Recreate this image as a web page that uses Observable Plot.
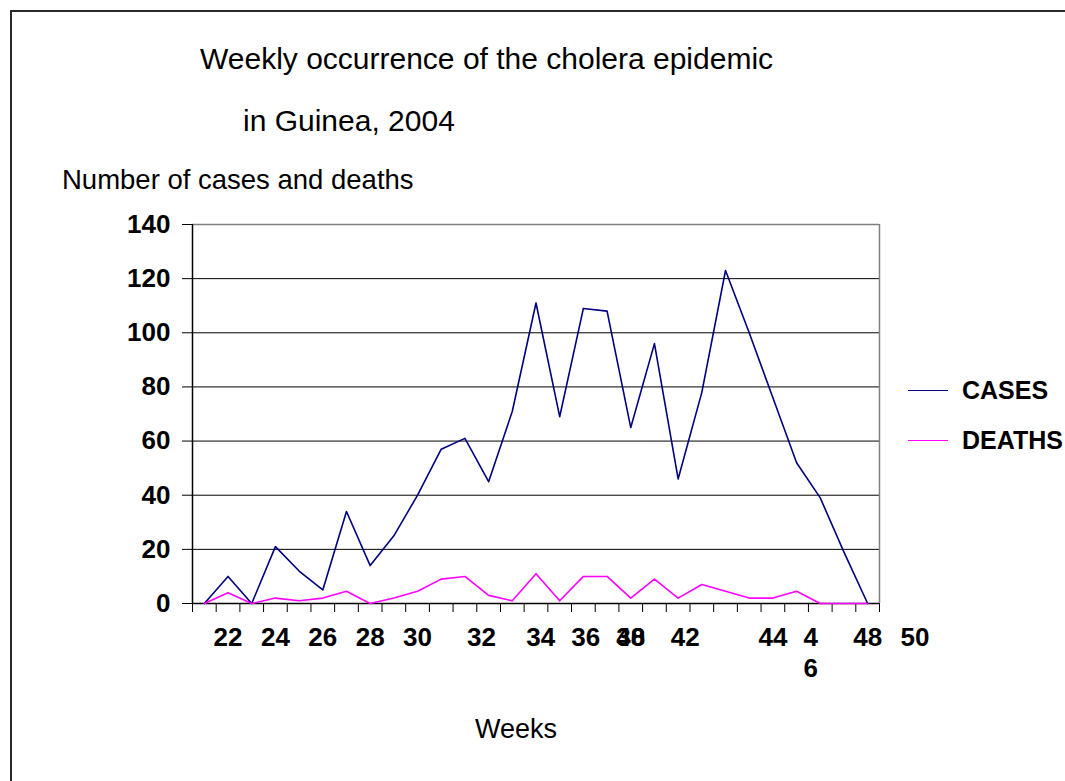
<!DOCTYPE html>
<html>
<head>
<meta charset="utf-8">
<script src="https://cdn.jsdelivr.net/npm/d3@7"></script>
<script src="https://cdn.jsdelivr.net/npm/@observablehq/plot@0.6"></script>
<style>
  html, body { margin: 0; padding: 0; background: #fff; overflow: hidden; }
  #page { position: relative; width: 1065px; height: 781px; overflow: hidden; font-family: "Liberation Sans", Arial, sans-serif; }
  #frame { position: absolute; left: 10px; top: 10px; width: 1100px; height: 820px; border: 2px solid #2a2a2a; box-sizing: border-box; }
  .t { position: absolute; white-space: nowrap; color: #000; line-height: 1; }
  #chart { position: absolute; left: 0; top: 0; }
  .leg { position: absolute; left: 908px; width: 40px; height: 0; border-top: 1.6px solid; }
  .legt { position: absolute; left: 962px; font-weight: bold; font-size: 25px; line-height: 1; white-space: nowrap; }
</style>
</head>
<body>
<div id="page">
  <div id="frame"></div>
  <div id="chart"></div>
  <div class="t" style="left:200px; top:44px; font-size:30px;">Weekly occurrence of the cholera epidemic</div>
  <div class="t" style="left:243px; top:106px; font-size:30px;">in Guinea, 2004</div>
  <div class="t" style="left:62px; top:166px; font-size:27.5px;">Number of cases and deaths</div>
  <div class="t" style="left:475px; top:716px; font-size:27px;">Weeks</div>
  <div class="leg" style="top:390px; border-color:#000080;"></div>
  <div class="legt" style="top:378px;">CASES</div>
  <div class="leg" style="top:440px; border-color:#ff00ff;"></div>
  <div class="legt" style="top:428px;">DEATHS</div>
</div>
<script>
// Category index of each weekly point (as plotted in the original)
const points = [1,2,3,4,5,6,7,8,9,10,11,12,13,14,15,16,17,18,19,20,21,22,23,24,25,26,27,28,29];
const cases  = [0,10,0,21,12,5,34,14,25,40,57,61,45,71,111,69,109,108,65,96,46,78,123,100,76,52,39,19,0];
const deaths = [0,4,0,2,1,2,4.5,0,2,4.5,9,10,3,1,11,1,10,10,2,9,2,7,4.5,2,2,4.5,0,0,0];

// Week labels as they appear under the axis (category position, text)
const weekLabels   = ["22","24","26","28","30","32","34","36","38","40","42","44","4\n6","48","50"];
const weekLabelPos = [2,4,6,8,10,12.7,15.2,17.1,19,19,21.3,25,26.6,29,31];

const yTicks = [0,20,40,60,80,100,120,140];
const gridValues = [20,40,60,80,100,120];
const catEdges = d3.range(0.5, 30, 1);

const rows = points.map((p, i) => ({p, cases: cases[i], deaths: deaths[i]}));
const labelRows = weekLabels.map((t, i) => ({t, pos: weekLabelPos[i]}));

const chart = Plot.plot({
  width: 1065,
  height: 781,
  marginLeft: 192,
  marginRight: 186,
  marginTop: 224,
  marginBottom: 178,
  style: {fontFamily: "'Liberation Sans', Arial, sans-serif", background: "transparent", overflow: "visible"},
  x: {domain: [0.5, 29.5], axis: null},
  y: {domain: [0, 140], axis: null},
  marks: [
    Plot.ruleY(gridValues, {stroke: "#000", strokeWidth: 1}),
    Plot.ruleY([140], {stroke: "#808080", strokeWidth: 1.5}),
    Plot.ruleX([29.5], {stroke: "#808080", strokeWidth: 1.5}),
    Plot.axisY({ticks: yTicks, tickSize: 10, tickPadding: 12, fontSize: 26, fontWeight: "bold", label: null, stroke: "#000", strokeWidth: 1, color: "#000"}),
    Plot.axisX({ticks: catEdges, tickSize: 9, tickFormat: () => "", label: null, stroke: "#000", strokeWidth: 1}),
    Plot.ruleY([0], {stroke: "#000", strokeWidth: 1.5}),
    Plot.ruleX([0.5], {stroke: "#000", strokeWidth: 1.5}),
    Plot.line(rows, {x: "p", y: "cases", stroke: "#000080", strokeWidth: 1.6}),
    Plot.line(rows, {x: "p", y: "deaths", stroke: "#ff00ff", strokeWidth: 1.6}),
    Plot.text(labelRows, {x: "pos", text: "t", frameAnchor: "bottom", dy: 20, lineAnchor: "top", lineHeight: 1.2, fontSize: 26, fontWeight: "bold", fill: "#000"})
  ]
});
document.getElementById("chart").appendChild(chart);
</script>
</body>
</html>
